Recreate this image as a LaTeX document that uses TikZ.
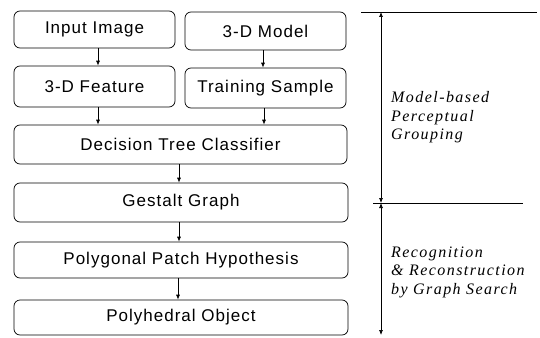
\documentclass[tikz,border=0pt]{standalone}
\usepackage{fontspec}
\newfontfamily\boxfont[LetterSpace=6]{Liberation Sans}
\newfontfamily\notefont[LetterSpace=9]{Liberation Serif}
\usetikzlibrary{arrows.meta}
\begin{document}
\begin{tikzpicture}[x=1pt,y=-1pt,
  box/.style={draw, line width=0.7pt, rounded corners=6pt, inner sep=0pt,
    font=\boxfont\fontsize{17}{19}\selectfont},
  arr/.style={-{Latex[length=5pt,width=4pt]}, line width=0.7pt},
  dimarr/.style={{Latex[length=5pt,width=4pt]}-{Latex[length=5pt,width=4pt]}, line width=0.7pt},
  note/.style={anchor=north west, inner sep=0pt, align=left,
    font=\notefont\itshape\fontsize{16}{18.5}\selectfont}]
\path[use as bounding box, fill=white] (0,0) rectangle (540,337);

\node[box, minimum width=161pt, minimum height=37pt] (in) at (94.5,29.5) {Input Image};
\node[box, minimum width=161pt, minimum height=38pt] (model) at (265.5,31) {3-D Model};
\node[box, minimum width=161pt, minimum height=41pt] (feat) at (94.5,86.5) {3-D Feature};
\node[box, minimum width=161pt, minimum height=40pt] (train) at (265.5,88) {Training Sample};
\node[box, minimum width=333pt, minimum height=39pt] (dtc) at (180.5,144.5) {Decision Tree Classifier};
\node[box, minimum width=334pt, minimum height=39pt] (gest) at (181,202.5) {Gestalt Graph};
\node[box, minimum width=334pt, minimum height=36pt] (poly) at (181,260) {Polygonal Patch Hypothesis};
\node[box, minimum width=334pt, minimum height=35pt] (obj) at (181,317.5) {Polyhedral Object};

\draw[arr] ([xshift=3.5pt]in.south) -- ([xshift=3.5pt]in.south |- feat.north);
\draw[arr] ([xshift=-2.5pt]model.south) -- ([xshift=-2.5pt]model.south |- train.north);
\draw[arr] ([xshift=3.5pt]feat.south) -- ([xshift=3.5pt]feat.south |- dtc.north);
\draw[arr] ([xshift=-1.5pt]train.south) -- ([xshift=-1.5pt]train.south |- dtc.north);
\draw[arr] ([xshift=-1.5pt]dtc.south) -- ([xshift=-1.5pt]dtc.south |- gest.north);
\draw[arr] ([xshift=-2pt]gest.south) -- ([xshift=-2pt]gest.south |- poly.north);
\draw[arr] ([xshift=-3pt]poly.south) -- ([xshift=-3pt]poly.south |- obj.north);

\coordinate (t1) at (361,12);
\coordinate (t2) at (537,12);
\coordinate (m1) at (373,203);
\coordinate (m2) at (523,203);
\coordinate (vt) at (381,12);
\coordinate (vm) at (381,203);
\coordinate (vb) at (381,335);
\draw[line width=0.7pt] (t1) -- (t2);
\draw[line width=0.7pt] (m1) -- (m2);
\draw[dimarr] (vt) -- (vm);
\draw[dimarr] (vm) -- (vb);

\node[note] (n1) at (391,91.5) {Model-based\\Perceptual\\Grouping};
\node[note] (n2) at (391,246.5) {Recognition\\\&~Reconstruction\\by Graph Search};
\end{tikzpicture}
\end{document}
